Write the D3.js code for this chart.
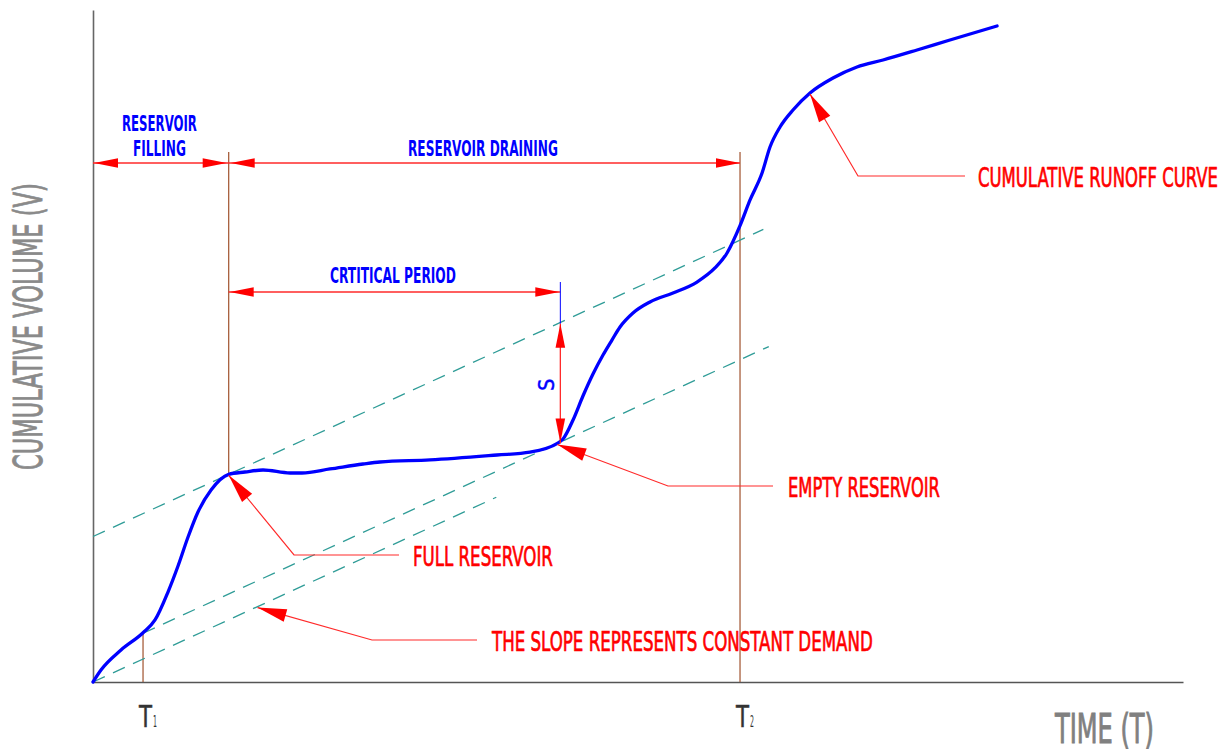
<!DOCTYPE html>
<html>
<head>
<meta charset="utf-8">
<script src="https://cdn.jsdelivr.net/npm/d3@7"></script>
<style>
  html, body { margin: 0; padding: 0; background: #fff; }
  svg { display: block; }
  .cond { font-family: "Liberation Sans Narrow", "DejaVu Sans Condensed", "Roboto", sans-serif; }
</style>
</head>
<body>
<svg id="chart" width="1226" height="752"></svg>
<script>
// ---------- DATA ----------
// Cumulative runoff (mass curve): time units vs cumulative volume units
const timeVals   = [0, 0.73, 2.57, 4.59, 5.69, 6.88, 7.8, 8.72, 9.63, 10.83, 12.45, 13.94, 15.6, 18.07, 19.17, 21.74, 24.77, 26.33, 30.92, 37.06, 40.09, 42.6, 43.12, 44.04, 44.95, 45.87, 46.79, 47.61, 48.35, 49.54, 51.1, 53.21, 55.41, 57.06, 58.17, 59.36, 60.28, 61.38, 62.11, 63.03, 64.22, 65.78, 67.89, 70.09, 72.48, 75.6, 78.62, 82.94];
const volumeVals = [0, 1.79, 4.76, 7.33, 9.23, 13.39, 17.26, 21.58, 25.3, 28.57, 30.9, 31.25, 31.55, 31.1, 31.1, 31.7, 32.44, 32.74, 33.04, 33.78, 34.2, 35.5, 36.16, 38.99, 42.56, 45.83, 48.66, 50.89, 52.83, 54.91, 56.55, 57.89, 59.52, 61.61, 63.84, 67.9, 71.73, 75.74, 79.61, 82.59, 85.12, 87.65, 89.88, 91.52, 92.56, 94.05, 95.54, 97.62];

// Key times
const T1 = 4.59, T2 = 59.36, tFull = 12.45, tEmpty = 42.6, tCurveArrow = 65.78;
// Constant demand rate (slope of the demand lines)
const demandRate = 0.743;
// Demand lines: anchor point (t, v) and extent
const demandAnchorT = [12.45, 42.6, 0];
const demandAnchorV = [30.9, 35.5, 0];
const demandStartT  = [0, T1, 0];
const demandEndT    = [61.5, 62.0, 37.0];
const slopeArrowT = 15.1;

// Texts
const tickLabels = ["T", "T"];
const tickSubs = ["1", "2"];
const yTitle = "CUMULATIVE VOLUME (V)";
const xTitle = "TIME (T)";

// ---------- SETUP ----------
const svg = d3.select("#chart");
const x = d3.scaleLinear().domain([0, 100]).range([93, 1183]);
const y = d3.scaleLinear().domain([0, 100]).range([682, 10]);

const RED = "#ff2a2a", BLUE = "#0000ff", TEAL = "#2f9c97", BROWN = "#a0522d";

function arrowHead(g, tx, ty, dx, dy, len, hw) {
  const n = Math.hypot(dx, dy); const ux = dx / n, uy = dy / n;
  const bx = tx + ux * len, by = ty + uy * len;
  const px = -uy * hw, py = ux * hw;
  g.append("path")
    .attr("d", `M${tx},${ty}L${bx + px},${by + py}L${bx - px},${by - py}Z`)
    .attr("fill", "#ff0000");
}
function curveV(t) {
  for (let i = 1; i < timeVals.length; i++) {
    if (t <= timeVals[i]) {
      const f = (t - timeVals[i-1]) / (timeVals[i] - timeVals[i-1]);
      return volumeVals[i-1] + f * (volumeVals[i] - volumeVals[i-1]);
    }
  }
  return volumeVals[volumeVals.length - 1];
}
const demandV = (i, t) => demandAnchorV[i] + (t - demandAnchorT[i]) * demandRate;

// Text squeezed horizontally to a given width (condensed look), via transform
function fitText(g, str, px, py, size, width, fill, opts = {}) {
  const t = g.append("text").attr("class", "cond")
    .attr("font-size", size).attr("fill", fill)
    .attr("font-weight", opts.bold ? "bold" : null)
    .text(str);
  if (opts.stroke) t.attr("stroke", fill).attr("stroke-width", opts.stroke);
  const len = t.node().getComputedTextLength();
  const s = width / len;
  const rot = opts.rotate ? ` rotate(${opts.rotate})` : "";
  t.attr("transform", `translate(${px},${py})${rot} scale(${s},1)`);
  return t;
}

// ---------- AXES ----------
const xAxis = svg.append("g").attr("transform", `translate(0,${y(0)})`)
  .call(d3.axisBottom(x).tickValues([]).tickSizeOuter(0));
xAxis.select(".domain").attr("stroke", "#555").attr("stroke-width", 1.6);
const yAxis = svg.append("g").attr("transform", `translate(${x(0)},0)`)
  .call(d3.axisLeft(y).tickValues([]).tickSizeOuter(0));
yAxis.select(".domain").attr("stroke", "#666").attr("stroke-width", 1.6);

// Axis titles
fitText(svg, yTitle, 42, 470, 39, 287, "#8a8a8a", { rotate: -90, stroke: 0.9 });
fitText(svg, xTitle, 1055, 743, 40, 99, "#808080", { stroke: 0.9 });

// T1, T2 labels
[T1, T2].forEach((t, i) => {
  fitText(svg, tickLabels[i], x(t) - 4, 727, 31, 13, "#333", { stroke: 0.5 });
  fitText(svg, tickSubs[i], x(t) + 10, 727, 15, 4, "#333");
});

// ---------- VERTICAL GUIDES ----------
const guides = svg.append("g").attr("stroke", BROWN).attr("stroke-width", 1.2);
guides.append("line").attr("x1", x(T1)).attr("x2", x(T1)).attr("y1", y(curveV(T1))).attr("y2", y(0));
guides.append("line").attr("x1", x(tFull)).attr("x2", x(tFull)).attr("y1", 152).attr("y2", y(curveV(tFull)));
guides.append("line").attr("x1", x(T2)).attr("x2", x(T2)).attr("y1", 152).attr("y2", y(0));

// ---------- DEMAND LINES ----------
const dl = svg.append("g").attr("stroke", TEAL).attr("stroke-width", 1.3)
  .attr("stroke-dasharray", "13,9").attr("fill", "none");
demandAnchorT.forEach((_, i) => {
  dl.append("line")
    .attr("x1", x(demandStartT[i])).attr("y1", y(demandV(i, demandStartT[i])))
    .attr("x2", x(demandEndT[i])).attr("y2", y(demandV(i, demandEndT[i])));
});

// ---------- CURVE ----------
const pts = timeVals.map((t, i) => [t, volumeVals[i]]);
svg.append("path").datum(pts)
  .attr("d", d3.line().x(d => x(d[0])).y(d => y(d[1])).curve(d3.curveMonotoneX))
  .attr("fill", "none").attr("stroke", BLUE).attr("stroke-width", 3.3)
  .attr("stroke-linejoin", "round").attr("stroke-linecap", "round");

// ---------- DIMENSION LINES ----------
const dim = svg.append("g");
const topY = 163;
dim.append("line").attr("x1", x(0)).attr("x2", x(T2)).attr("y1", topY).attr("y2", topY)
  .attr("stroke", RED).attr("stroke-width", 1.3);
arrowHead(dim, x(0) + 1, topY, 1, 0, 24, 4.8);
arrowHead(dim, x(tFull) - 2, topY, -1, 0, 24, 4.8);
arrowHead(dim, x(tFull) + 2, topY, 1, 0, 24, 4.8);
arrowHead(dim, x(T2), topY, -1, 0, 24, 4.8);

const cpY = 292;
dim.append("line").attr("x1", x(tFull)).attr("x2", x(tEmpty) + 3).attr("y1", cpY).attr("y2", cpY)
  .attr("stroke", RED).attr("stroke-width", 1.3);
arrowHead(dim, x(tFull) + 1, cpY, 1, 0, 24, 4.8);
arrowHead(dim, x(tEmpty) + 2, cpY, -1, 0, 24, 4.8);

// storage vertical
const sx = x(tEmpty) + 3;
const yTop = y(demandV(0, tEmpty)), yBot = y(volumeVals[timeVals.indexOf(tEmpty)]);
dim.append("line").attr("x1", sx).attr("x2", sx).attr("y1", 282).attr("y2", yTop)
  .attr("stroke", BLUE).attr("stroke-width", 1);
dim.append("line").attr("x1", sx).attr("x2", sx).attr("y1", yTop).attr("y2", yBot)
  .attr("stroke", RED).attr("stroke-width", 1.3);
arrowHead(dim, sx, yTop, 0, 1, 24, 4.8);
arrowHead(dim, sx, yBot - 1, 0, -1, 24, 4.8);
fitText(svg, "S", sx - 6, (yTop + yBot) / 2 + 7, 22, 12, BLUE, { rotate: -90, stroke: 0.5 });

// Blue labels
const blueLabels = [
  { t: "RESERVOIR", x: 122, y: 131, w: 75 },
  { t: "FILLING", x: 133, y: 156, w: 53 },
  { t: "RESERVOIR DRAINING", x: 408, y: 156, w: 150 },
  { t: "CRTITICAL PERIOD", x: 330, y: 283, w: 126 }
];
blueLabels.forEach(d => fitText(svg, d.t, d.x, d.y, 22, d.w, BLUE, { bold: true }));

// ---------- LEADERS ----------
const leaders = [
  { tip: [x(tCurveArrow), y(curveV(tCurveArrow)) + 1], knee: [858, 176], end: [965, 176],
    t: "CUMULATIVE RUNOFF CURVE", tx: 978, ty: 187, w: 240 },
  { tip: [x(tEmpty), y(curveV(tEmpty)) + 1], knee: [668, 486], end: [773, 486],
    t: "EMPTY RESERVOIR", tx: 788, ty: 497, w: 152 },
  { tip: [x(tFull), y(curveV(tFull)) + 1], knee: [294, 555], end: [399, 555],
    t: "FULL RESERVOIR", tx: 413, ty: 566, w: 140 },
  { tip: [x(slopeArrowT), y(demandV(2, slopeArrowT)) + 1], knee: [372, 640], end: [477, 640],
    t: "THE SLOPE REPRESENTS CONSTANT DEMAND", tx: 492, ty: 651, w: 381 }
];
const lg = svg.append("g");
leaders.forEach(d => {
  lg.append("polyline")
    .attr("points", [d.tip, d.knee, d.end].map(p => p.join(",")).join(" "))
    .attr("fill", "none").attr("stroke", RED).attr("stroke-width", 1.2);
  arrowHead(lg, d.tip[0], d.tip[1], d.knee[0] - d.tip[0], d.knee[1] - d.tip[1], 29, 6.5);
  fitText(lg, d.t, d.tx, d.ty, 27, d.w, "#ff0000", { stroke: 0.7 });
});
</script>
</body>
</html>
